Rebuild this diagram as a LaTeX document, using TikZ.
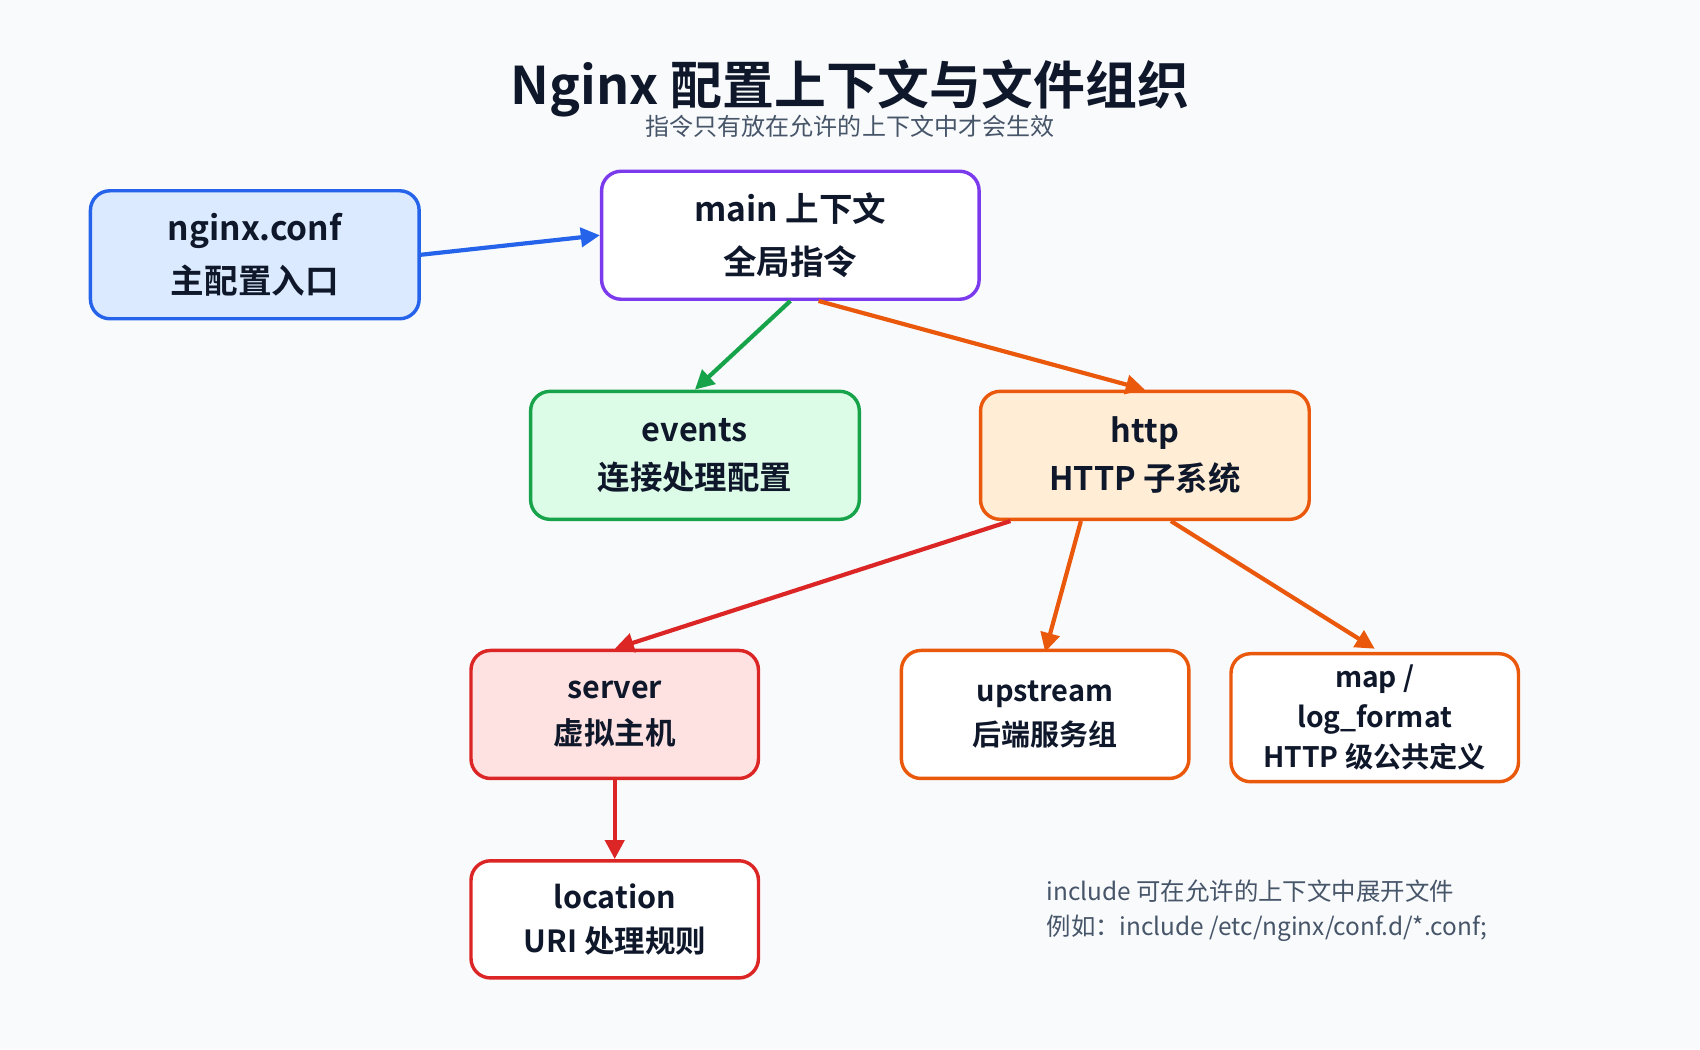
\documentclass[tikz,border=0pt]{standalone}
\usepackage{fontspec}
\setmainfont{Noto Sans CJK SC}
\newfontfamily\titlefont{Noto Sans CJK SC Bold}
\usetikzlibrary{arrows.meta,positioning}
\definecolor{bgc}{HTML}{F8FAFC}
\definecolor{ink}{HTML}{0F172A}
\definecolor{grayt}{HTML}{475569}
\definecolor{cblue}{HTML}{2563EB}
\definecolor{fblue}{HTML}{DBEAFE}
\definecolor{cpurple}{HTML}{7C3AED}
\definecolor{cgreen}{HTML}{16A34A}
\definecolor{fgreen}{HTML}{DCFCE7}
\definecolor{corange}{HTML}{EA580C}
\definecolor{forange}{HTML}{FFEDD5}
\definecolor{cred}{HTML}{DC2626}
\definecolor{fred}{HTML}{FEE2E2}
\begin{document}
\begin{tikzpicture}[x=0.01cm,y=-0.01cm,>={Triangle[length=5pt,width=5pt]},
    box/.style={draw,line width=0.9pt,rounded corners=0.18cm,align=center,
      font=\titlefont\fontsize{8.8}{14}\selectfont,text=ink,inner sep=0pt},
    link/.style={->,line width=1.1pt}]
	  \fill[bgc] (0,0) rectangle (1568,968);

	  \node[font=\titlefont\fontsize{13.6}{18}\selectfont,text=ink] (title) at (784,82) {Nginx 配置上下文与文件组织};
	  \node[font=\fontsize{6.3}{8}\selectfont,text=grayt] (sub) at (784,117) {指令只有放在允许的上下文中才会生效};

	  \node[box,draw=cblue,fill=fblue,minimum width=3.03cm,minimum height=1.18cm] (conf) at (235,235) {nginx.conf\\主配置入口};
	  \node[box,draw=cpurple,fill=white,minimum width=3.48cm,minimum height=1.18cm] (main) at (729,217) {main 上下文\\全局指令};
	  \node[box,draw=cgreen,fill=fgreen,minimum width=3.03cm,minimum height=1.18cm,font=\titlefont\fontsize{8.5}{12.5}\selectfont] (events) at (641,420) {events\\连接处理配置};
	  \node[box,draw=corange,fill=forange,minimum width=3.03cm,minimum height=1.18cm,font=\titlefont\fontsize{8.5}{12.5}\selectfont] (http) at (1056,420) {http\\HTTP 子系统};
	  \node[box,draw=cred,fill=fred,minimum width=2.65cm,minimum height=1.18cm,font=\titlefont\fontsize{8}{12}\selectfont] (server) at (567,659) {server\\虚拟主机};
	  \node[box,draw=corange,fill=white,minimum width=2.65cm,minimum height=1.18cm,font=\titlefont\fontsize{7.6}{11.5}\selectfont] (upstream) at (964,659) {upstream\\后端服务组};
	  \node[box,draw=corange,fill=white,minimum width=2.65cm,minimum height=1.18cm,font=\titlefont\fontsize{7.4}{10.5}\selectfont] (map) at (1268,662) {map /\\log\_format\\HTTP 级公共定义};
	  \node[box,draw=cred,fill=white,minimum width=2.65cm,minimum height=1.08cm,font=\titlefont\fontsize{8}{11.5}\selectfont] (location) at (567,848) {location\\URI 处理规则};

	  \node[font=\fontsize{6.4}{9}\selectfont,text=grayt,align=left,anchor=west] (note) at (953,840) {include 可在允许的上下文中展开文件\\例如：include /etc/nginx/conf.d/*.conf;};

	  \draw[link,cblue] (conf.east) -- (main.west);
	  \draw[link,cgreen] (main.south) -- (events.north);
	  \draw[link,corange] ([xshift=0.26cm]main.south) -- (http.north);
	  \draw[link,cred] ([xshift=-1.24cm]http.south) -- (server.north);
	  \draw[link,corange] ([xshift=-0.59cm]http.south) -- ([yshift=-0.03cm]upstream.north);
	  \draw[link,corange] ([xshift=0.24cm]http.south) -- ([yshift=0.03cm]map.north);
	  \draw[link,cred] (server.south) -- (location.north);
	\end{tikzpicture}
\end{document}
